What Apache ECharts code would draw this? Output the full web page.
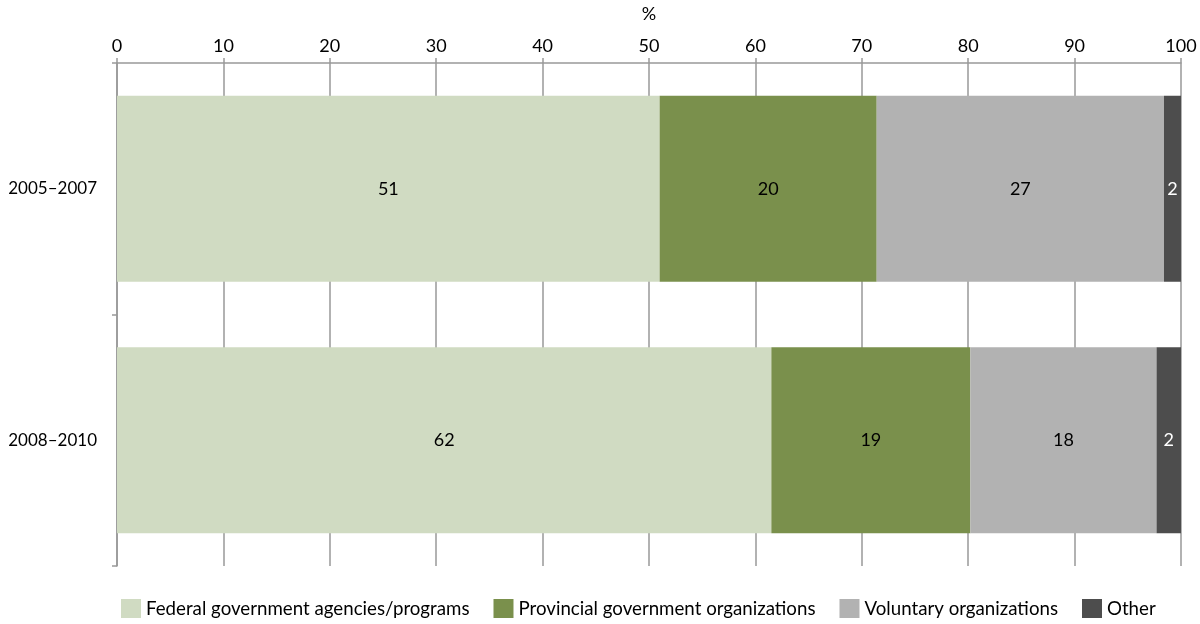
<!DOCTYPE html>
<html>
<head>
<meta charset="utf-8">
<script src="https://cdn.jsdelivr.net/npm/echarts@6/dist/echarts.min.js"></script>
<style>
  html, body { margin: 0; padding: 0; background: #fff; }
  #container { width: 1200px; height: 624px; }
</style>
</head>
<body>
<div id="container"></div>
<script>
var periods = ['2005\u20132007', '2008\u20132010'];
var federal = [51.0, 61.5];
var provincial = [20.4, 18.7];
var voluntary = [27.0, 17.5];
var other = [1.6, 2.3];
var xTicks = [0, 10, 20, 30, 40, 50, 60, 70, 80, 90, 100];

window.onload = function() {

var chartDom = document.getElementById('container');
var myChart = echarts.init(chartDom);
var option;

var font = 'Lato';

function makeSeries(name, data, color, labelColor) {
  return {
    name: name,
    type: 'bar',
    stack: 'total',
    data: data,
    barWidth: '74%',
    itemStyle: { color: color },
    label: {
      show: true,
      position: 'inside',
      color: labelColor,
      fontFamily: font,
      fontSize: 18,
      formatter: function(p) { return Math.round(p.value); }
    }
  };
}

option = {
  animation: false,
  textStyle: { fontFamily: font },
  grid: { left: 117, right: 19, top: 63, bottom: 58, containLabel: false },
  legend: {
    bottom: 1,
    left: 116,
    itemWidth: 20,
    itemHeight: 19,
    itemGap: 24,
    icon: 'rect',
    textStyle: { fontFamily: font, fontSize: 18.7, color: '#000' },
    data: ['Federal government agencies/programs', 'Provincial government organizations', 'Voluntary organizations', 'Other']
  },
  xAxis: {
    type: 'value',
    position: 'top',
    min: xTicks[0],
    max: xTicks[xTicks.length - 1],
    interval: 10,
    name: '%',
    nameLocation: 'middle',
    nameGap: 40,
    nameTextStyle: { fontFamily: font, fontSize: 18, color: '#000' },
    axisLine: { show: true, lineStyle: { color: '#999', width: 1.5 } },
    axisTick: { show: true, length: 5, lineStyle: { color: '#999', width: 1.5 } },
    axisLabel: { fontFamily: font, fontSize: 18, color: '#000', margin: 8 },
    splitLine: { show: true, lineStyle: { color: '#999', width: 1.5 } }
  },
  yAxis: {
    type: 'category',
    inverse: true,
    data: periods,
    axisLine: { show: true, lineStyle: { color: '#999', width: 1.5 } },
    axisTick: { show: true, length: 5, lineStyle: { color: '#999', width: 1.5 } },
    axisLabel: { fontFamily: font, fontSize: 17, color: '#000', margin: 20 }
  },
  series: [
    makeSeries('Federal government agencies/programs', federal, '#d0dbc2', '#000'),
    makeSeries('Provincial government organizations', provincial, '#7a904c', '#000'),
    makeSeries('Voluntary organizations', voluntary, '#b2b2b2', '#000'),
    makeSeries('Other', other, '#4d4d4d', '#fff')
  ]
};

option && myChart.setOption(option);

}
</script>
</body>
</html>
